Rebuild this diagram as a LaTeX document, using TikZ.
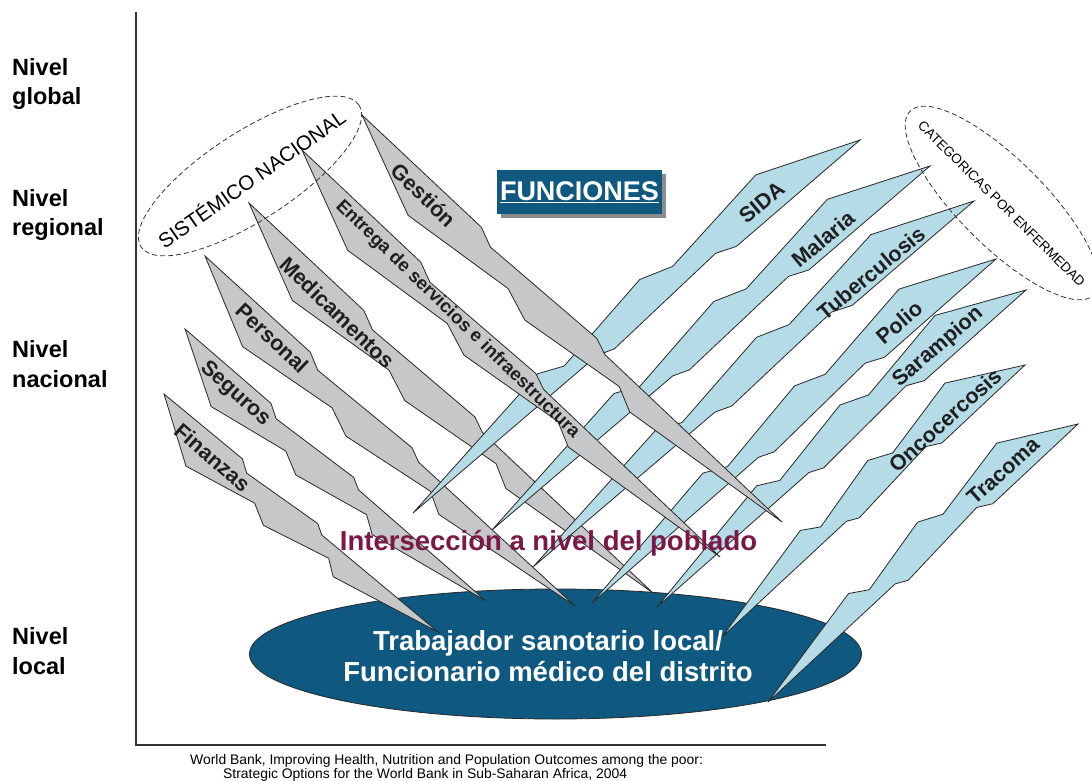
\documentclass[tikz,border=0pt]{standalone}
\usepackage{fontspec}
\setmainfont{Liberation Sans}
\usetikzlibrary{calc,shapes.geometric}
\definecolor{spkgray}{RGB}{198,199,201}
\definecolor{spkblue}{RGB}{181,220,230}
\definecolor{deepblue}{RGB}{15,88,128}
\definecolor{poblado}{RGB}{122,24,72}
\definecolor{spkedge}{RGB}{40,40,40}
\newcommand\fsz[1]{\fontsize{#1}{#1}\selectfont}
\newcommand\spk[3]{%
  \draw[#3] (#1)
    -- ($(#1)!0.176!(#2)!40pt!-90:(#2)$)
    -- ($(#1)!0.386!(#2)!23pt!-90:(#2)$)
    -- ($(#1)!0.444!(#2)!34pt!-90:(#2)$)
    -- ($(#1)!0.639!(#2)!16pt!-90:(#2)$)
    -- ($(#1)!0.682!(#2)!27pt!-90:(#2)$)
    -- (#2)
    -- ($(#1)!0.583!(#2)!3pt!-90:(#2)$)
    -- ($(#1)!0.554!(#2)!3pt!90:(#2)$)
    -- ($(#1)!0.315!(#2)!5.5pt!-90:(#2)$)
    -- ($(#1)!0.28!(#2)!2.5pt!90:(#2)$)
    -- cycle;}
\begin{document}
\begin{tikzpicture}[x=1pt,y=-1pt,
  grayspk/.style={fill=spkgray,draw=spkedge,line width=0.8pt},
  bluespk/.style={fill=spkblue,draw=spkedge,line width=0.8pt},
  lbl/.style={font=\bfseries\fsz{21.5},text=black!88,inner sep=0pt},
  level/.style={font=\bfseries\fsz{23.5},align=left,anchor=west,inner sep=0pt,text=black},
  dashell/.style={ellipse,draw=black!80,dash pattern=on 5pt off 3pt,line width=0.8pt,inner sep=0pt},
  axis/.style={draw=black!80,line width=1.1pt}]
\useasboundingbox (0,0) rectangle (1092,781);
% axes
\draw[axis] (136,12) -- (136,745) -- (826,745);
% level labels
\node[level] (lg) at (12,84) {Nivel\\[6pt]global};
\node[level] (lr) at (12,215) {Nivel\\[6pt]regional};
\node[level] (ln) at (12,364) {Nivel\\[6pt]nacional};
\node[level] (ll) at (12,651) {Nivel\\[6pt]local};
% local ellipse
\node[ellipse,fill=deepblue,draw=spkedge,line width=0.8pt,minimum width=612pt,minimum height=130pt,inner sep=0pt] (loc) at (555.5,654) {};
% spike end points
\coordinate (finA) at (164,394);  \coordinate (finT) at (438,632);
\coordinate (segA) at (185,329);  \coordinate (segT) at (486,601);
\coordinate (perA) at (205,256);  \coordinate (perT) at (575,606);
\coordinate (medA) at (249,203);  \coordinate (medT) at (653,593);
\coordinate (entA) at (302,150);  \coordinate (entT) at (720,557);
\coordinate (gesA) at (362,115);  \coordinate (gesT) at (782,522);
\coordinate (sidA) at (860,140);  \coordinate (sidT) at (413,513);
\coordinate (malA) at (930,166);  \coordinate (malT) at (492,530);
\coordinate (tubA) at (974,201);  \coordinate (tubT) at (533,567);
\coordinate (polA) at (996,259);  \coordinate (polT) at (592,603);
\coordinate (sarA) at (1026,290); \coordinate (sarT) at (657,607);
\coordinate (oncA) at (1025,365); \coordinate (oncT) at (722,637);
\coordinate (traA) at (1078,424); \coordinate (traT) at (768,702);
% lower gray spikes
\spk{finA}{finT}{grayspk}
\spk{segA}{segT}{grayspk}
\spk{perA}{perT}{grayspk}
\spk{medA}{medT}{grayspk}
% blue spikes
\spk{traA}{traT}{bluespk}
\spk{oncA}{oncT}{bluespk}
\spk{sarA}{sarT}{bluespk}
\spk{polA}{polT}{bluespk}
\spk{tubA}{tubT}{bluespk}
\spk{malA}{malT}{bluespk}
\spk{sidA}{sidT}{bluespk}
% upper gray spikes
\spk{entA}{entT}{grayspk}
\spk{gesA}{gesT}{grayspk}
% gray labels
\node[lbl,rotate=-41] (lfin) at (212.5,457.5) {Finanzas};
\node[lbl,rotate=-42] (lseg) at (235,394) {Seguros};
\node[lbl,rotate=-43.4] (lper) at (272.5,338) {Personal};
\node[lbl,rotate=-44] (lmed) at (337.5,312.5) {Medicamentos};
\node[lbl,rotate=-44.2,font=\bfseries\fsz{18.5}] (lent) at (457.5,319.5) {Entrega de servicios e infraestructura};
\node[lbl,rotate=-44] (lges) at (424,195) {Gestión};
% blue labels
\node[lbl,rotate=39.8] (lsid) at (761.7,202.5) {SIDA};
\node[lbl,rotate=39.7] (lmal) at (823,239) {Malaria};
\node[lbl,rotate=39.7] (ltub) at (871,273) {Tuberculosis};
\node[lbl,rotate=40.4] (lpol) at (899,322.5) {Polio};
\node[lbl,rotate=40.7] (lsar) at (938,347) {Sarampion};
\node[lbl,rotate=41.9] (lonc) at (945,420) {Oncocercosis};
\node[lbl,rotate=41.9] (ltra) at (1003,471) {Tracoma};
% dashed group ellipses
\node[dashell,rotate=33,minimum width=260pt,minimum height=88pt] (sis) at (250,176) {};
\node[rotate=35,font=\fsz{20.5},inner sep=0pt] (sistxt) at (251,178) {SISTÉMICO NACIONAL};
\node[dashell,rotate=-45,minimum width=260pt,minimum height=86pt] (cat) at (1002,203) {};
\node[rotate=-44.7,font=\fsz{13.5},inner sep=0pt] (cattxt) at (1001.7,204) {CATEGORICAS POR ENFERMEDAD};
% FUNCIONES box
\fill[black!45] (501,174) rectangle (666,218);
\node[fill=deepblue,minimum width=165pt,minimum height=44pt,inner sep=0pt,text=white,font=\bfseries\fsz{27}] (fun) at (579.5,192) {\underline{FUNCIONES}};
% intersection text
\node[font=\bfseries\fsz{27.5},text=poblado,inner sep=0pt] (inter) at (548.5,543) {Intersección a nivel del poblado};
% ellipse text
\node[font=\bfseries\fsz{27.5},text=white,align=center,inner sep=0pt] (loctext) at (548,656) {Trabajador sanotario local/\\[3pt]Funcionario médico del distrito};
% footer
\node[anchor=west,font=\fsz{13.9},inner sep=0pt] (ref1) at (190,761) {World Bank, Improving Health, Nutrition and Population Outcomes among the poor:};
\node[anchor=west,font=\fsz{13.9},inner sep=0pt] (ref2) at (223,775) {Strategic Options for the World Bank in Sub-Saharan Africa, 2004};
\end{tikzpicture}
\end{document}
